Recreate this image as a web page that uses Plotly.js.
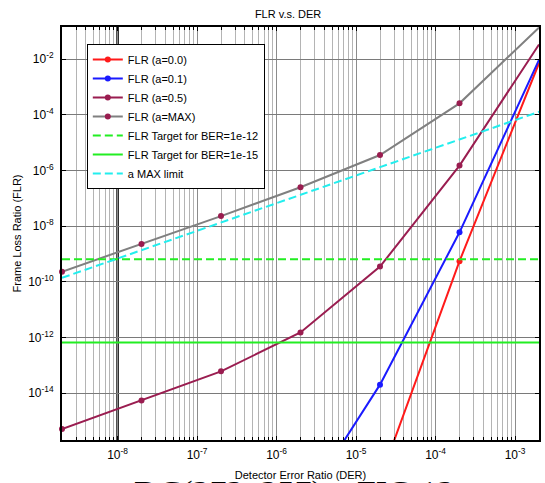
<!DOCTYPE html>
<html><head><meta charset="utf-8">
<script src="https://cdn.plot.ly/plotly-3.0.1.min.js"></script>
<style>html,body{margin:0;padding:0;background:#fff}</style>
</head><body><div id="chart" style="width:545px;height:483px"></div>
<script>
// Detector error ratio (x) values of the computed points
const der = [2e-9, 2e-8, 2e-7, 2e-6, 2e-5, 2e-4, 2e-3];
// Frame loss ratio series (null = below the visible range)
const flrA00 = [null, null, null, null, 7.9e-18, 5.5e-10, 7.2e-3];
const flrA01 = [null, null, null, 6.9e-19, 2.0e-14, 6.0e-9, 9.5e-3];
const flrA05 = [5.1e-16, 5.4e-15, 6.0e-14, 1.5e-12, 3.5e-10, 1.5e-6, 3.4e-2];
const flrAMax = [2.3e-10, 2.3e-9, 2.3e-8, 2.5e-7, 3.6e-6, 2.6e-4, 1.38e-1];
// a MAX limit line
const limitDer = [2e-9, 2e-3];
const aMaxLimit = [1.38e-10, 1.29e-4];
// FLR targets
const targetDer = [2e-9, 2e-3];
const target12 = [6.4e-10, 6.4e-10];
const target15 = [6.6e-13, 6.6e-13];
// Ticks
const xTickVals = [1e-8, 1e-7, 1e-6, 1e-5, 1e-4, 1e-3];
const xTickText = ['10<sup>-8</sup>', '10<sup>-7</sup>', '10<sup>-6</sup>', '10<sup>-5</sup>', '10<sup>-4</sup>', '10<sup>-3</sup>'];
const yTickVals = [1e-2, 1e-4, 1e-6, 1e-8, 1e-10, 1e-12, 1e-14];
const yTickText = ['10<sup>-2</sup>', '10<sup>-4</sup>', '10<sup>-6</sup>', '10<sup>-8</sup>', '10<sup>-10</sup>', '10<sup>-12</sup>', '10<sup>-14</sup>'];

const minorX = [];
for (let d = -9; d <= -3; d++) {
  for (let k = 2; k <= 9; k++) minorX.push(k * Math.pow(10, d));
}

const FONT = 'Liberation Sans, Arial, sans-serif';
const purple = '#9a1d50';

function series(name, y, color, mcolor) {
  return {x: der, y: y, name: name, type: 'scatter', mode: 'lines+markers',
    line: {color: color, width: 2}, marker: {color: mcolor, size: 6},
    cliponaxis: false, connectgaps: false};
}

const traces = [
  series('FLR (a=0.0)', flrA00, '#ff1a1a', '#ff1a1a'),
  series('FLR (a=0.1)', flrA01, '#1a1aff', '#1a1aff'),
  series('FLR (a=0.5)', flrA05, purple, purple),
  series('FLR (a=MAX)', flrAMax, '#808080', purple),
  {x: targetDer, y: target12, name: 'FLR Target for BER=1e-12', type: 'scatter', mode: 'lines',
    line: {color: '#22ee22', width: 2, dash: '8px,4px'}},
  {x: targetDer, y: target15, name: 'FLR Target for BER=1e-15', type: 'scatter', mode: 'lines',
    line: {color: '#22ee22', width: 2}},
  {x: limitDer, y: aMaxLimit, name: 'a MAX limit', type: 'scatter', mode: 'lines',
    line: {color: '#22eeee', width: 2, dash: '8px,4px'}}
];

const layout = {
  width: 545, height: 483,
  margin: {l: 62, r: 6, t: 27, b: 43},
  paper_bgcolor: '#fff', plot_bgcolor: '#fff',
  font: {family: FONT, color: '#000', size: 11},
  showlegend: true,
  title: {text: 'FLR v.s. DER', font: {family: FONT, size: 11, color: '#000'},
    x: 0.474, xref: 'paper', xanchor: 'center', y: 1 - 14 / 483, yref: 'container', yanchor: 'middle'},
  xaxis: {
    type: 'log', range: [Math.log10(2e-9), Math.log10(2e-3)],
    tickmode: 'array', tickvals: xTickVals, ticktext: xTickText,
    showgrid: true, gridcolor: '#8c8c8c', gridwidth: 1,
    ticks: 'inside', ticklen: 4, tickcolor: '#000', tickwidth: 1,
    showline: true, linecolor: '#000', linewidth: 2, mirror: 'allticks', zeroline: false,
    minor: {tickmode: 'array', tickvals: minorX, showgrid: true, gridcolor: '#b4b4b4', gridwidth: 1,
      ticks: 'inside', ticklen: 3, tickcolor: '#000'},
    tickfont: {family: FONT, size: 12, color: '#000'},
    ticklabelstandoff: 3,
    title: {text: 'Detector Error Ratio (DER)', font: {family: FONT, size: 11, color: '#000'}, standoff: 10},
    automargin: false
  },
  yaxis: {
    type: 'log', range: [-15.69, -0.84],
    tickmode: 'array', tickvals: yTickVals, ticktext: yTickText,
    showgrid: true, gridcolor: '#7a7a7a', gridwidth: 1,
    ticks: 'inside', ticklen: 4, tickcolor: '#000', tickwidth: 1,
    showline: true, linecolor: '#000', linewidth: 2, mirror: 'allticks', zeroline: false,
    tickfont: {family: FONT, size: 12, color: '#000'},
    ticklabelstandoff: 4,
    title: {text: 'Frame Loss Ratio (FLR)', font: {family: FONT, size: 11, color: '#000'}, standoff: 4},
    automargin: false
  },
  legend: {x: 0.052, y: 0.959, xanchor: 'left', yanchor: 'top', bgcolor: '#fff',
    bordercolor: '#000', borderwidth: 1, font: {family: FONT, size: 11, color: '#000'}},
  shapes: [{type: 'line', xref: 'x', yref: 'paper', x0: 1e-8, x1: 1e-8, y0: 0, y1: 1,
    line: {color: '#000', width: 2.5}, layer: 'between'}],
  annotations: [{text: 'DC(272, 257) \u2013 FIG 13', xref: 'paper', yref: 'paper',
    x: (294 - 62) / 477, y: (440 - 472) / 413, xanchor: 'center', yanchor: 'top', showarrow: false,
    font: {family: 'Liberation Serif, Times New Roman, serif', size: 34, color: '#000'}}]
};

Plotly.newPlot('chart', traces, layout, {displayModeBar: false, staticPlot: true});
</script></body></html>
